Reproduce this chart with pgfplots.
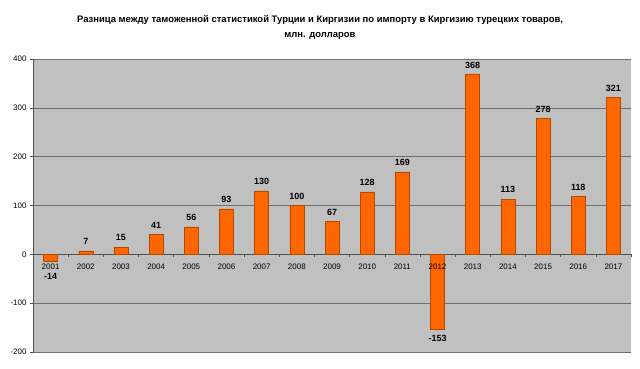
\documentclass[border=0pt]{standalone}
\usepackage{pgfplots}
\pgfplotsset{compat=1.18}
\usepackage{fontspec}
\setmainfont{Liberation Sans}
\definecolor{barfill}{HTML}{FF6600}
\definecolor{barline}{HTML}{B04A00}
\definecolor{plotbg}{HTML}{C0C0C0}
\definecolor{gridc}{HTML}{6E6E6E}
\definecolor{axisc}{HTML}{505050}
\pgfplotstableread{
x y lab
1 7 7
2 15 15
3 41 41
4 56 56
5 93 93
6 130 130
7 100 100
8 67 67
9 128 128
10 169 169
12 368 368
13 113 113
14 278 278
15 118 118
16 321 321
}\pos
\pgfplotstableread{
x y lab
11 -153 -153
}\negb
\pgfplotstableread{
x y lab
0 -14 -14
}\nega
\pgfplotstableread{
x y lab
0 0 2001
1 0 2002
2 0 2003
3 0 2004
4 0 2005
5 0 2006
6 0 2007
7 0 2008
8 0 2009
9 0 2010
10 0 2011
11 0 2012
12 0 2013
13 0 2014
14 0 2015
15 0 2016
16 0 2017
}\years
\begin{document}
\begin{tikzpicture}[x=1bp,y=1bp]
\path[use as bounding box, fill=white] (0,0) rectangle (640,368);
\node[font=\fontsize{9.5}{15}\selectfont\bfseries, align=center] at (320,340.5) {Разница между таможенной статистикой Турции и Киргизии по импорту в Киргизию турецких товаров,\\млн. долларов};
\begin{axis}[
  at={(33bp,16bp)}, anchor=south west,
  width=598bp, height=293bp, scale only axis,
  xmin=-0.5, xmax=16.5, ymin=-200, ymax=400,
  axis x line*=middle, axis y line*=left,
  axis line style={axisc, line width=0.6bp},
  axis background/.style={fill=plotbg},
  ymajorgrids, grid style={gridc, line width=0.5bp},
  ytick={-200,-100,0,100,200,300,400},
  yticklabels={-200,-100,0,100,200,300,400},
  xtick={-0.5,0.5,...,16.5}, xticklabels={},
  tick align=outside,
  major tick length=3bp,
  tick style={axisc, line width=0.5bp},
  ticklabel style={font=\fontsize{8}{9}\selectfont},
  yticklabel style={xshift=0bp},
  point meta=explicit symbolic,
  every node near coord/.append style={font=\fontsize{9}{10}\selectfont\bfseries},
  clip=false,
]
\addplot[ybar, bar width=14bp, bar shift=0pt, fill=barfill, draw=barline, line width=0.5bp,
  nodes near coords, nodes near coords style={anchor=south, yshift=2.5bp}]
  table[x=x, y=y, meta=lab] {\pos};
\addplot[ybar, bar width=14bp, bar shift=0pt, fill=barfill, draw=barline, line width=0.5bp,
  nodes near coords, nodes near coords style={anchor=north, yshift=-3bp}]
  table[x=x, y=y, meta=lab] {\negb};
\addplot[ybar, bar width=14bp, bar shift=0pt, fill=barfill, draw=barline, line width=0.5bp,
  nodes near coords, nodes near coords style={anchor=north, yshift=-9bp}]
  table[x=x, y=y, meta=lab] {\nega};
\addplot[draw=none, mark=none, nodes near coords,
  nodes near coords style={anchor=center, yshift=-12bp, font=\fontsize{8}{9}\selectfont, text=black}]
  table[x=x, y=y, meta=lab] {\years};
\end{axis}
\end{tikzpicture}
\end{document}
